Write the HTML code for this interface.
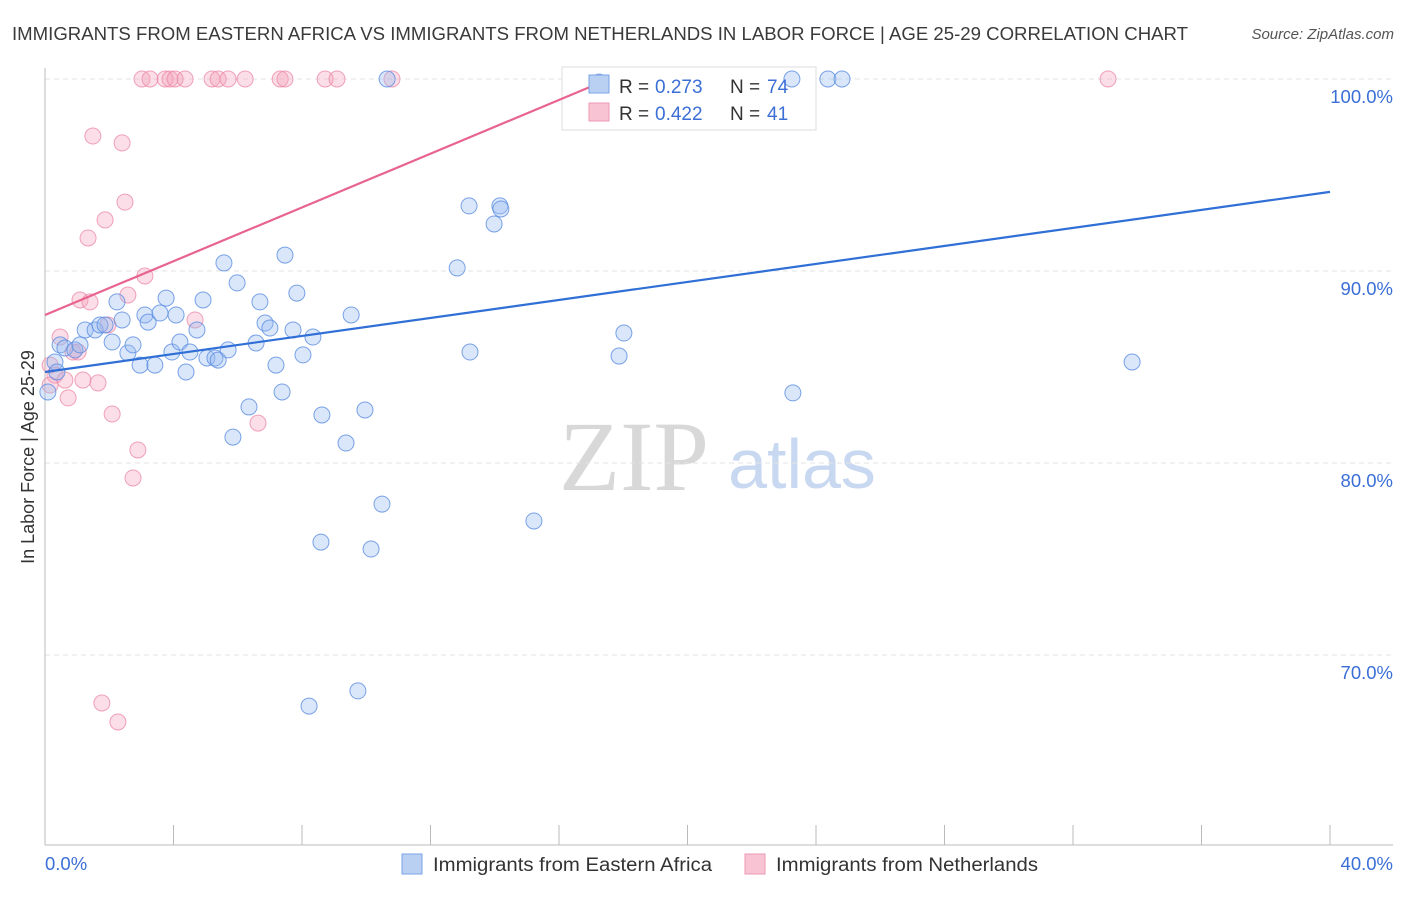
<!DOCTYPE html>
<html><head><meta charset="utf-8">
<style>
body{margin:0;background:#fff;font-family:"Liberation Sans",sans-serif;}
svg text{font-family:"Liberation Sans",sans-serif;}
</style></head>
<body>
<svg id="chart" width="1406" height="892" viewBox="0 0 1406 892">
<text x="12" y="40" font-size="18" fill="#3a3a3a" textLength="1176" lengthAdjust="spacingAndGlyphs">IMMIGRANTS FROM EASTERN AFRICA VS IMMIGRANTS FROM NETHERLANDS IN LABOR FORCE | AGE 25-29 CORRELATION CHART</text>
<text x="1394" y="39" font-size="15" fill="#555" font-style="italic" text-anchor="end">Source: ZipAtlas.com</text>
<g>
<text x="634" y="490" font-size="100" fill="#d8d8d8" text-anchor="middle" style="font-family:'Liberation Serif',serif">ZIP</text>
<text x="802" y="488" font-size="70" fill="#c8d8f0" text-anchor="middle">atlas</text>
</g>
<g id="grid"></g>
<g id="axes"></g>
<g>
<rect x="562" y="67" width="254" height="63" fill="#fff" stroke="#ddd"/>
</g>
<g id="marks"></g>
<g>
<rect x="589" y="75" width="20" height="18" fill="#b9d0f3" stroke="#7aa2e6"/>
<text x="619" y="93" font-size="19" fill="#333">R = </text><text x="655" y="93" font-size="19" fill="#3b6fd6">0.273</text>
<text x="730" y="93" font-size="19" fill="#333">N = </text><text x="767" y="93" font-size="19" fill="#3b6fd6">74</text>
<rect x="589" y="103" width="20" height="18" fill="#f8c3d2" stroke="#ec9ab3"/>
<text x="619" y="120" font-size="19" fill="#333">R = </text><text x="655" y="120" font-size="19" fill="#3b6fd6">0.422</text>
<text x="730" y="120" font-size="19" fill="#333">N = </text><text x="767" y="120" font-size="19" fill="#3b6fd6">41</text>
</g>
<text transform="translate(34,457) rotate(-90)" font-size="18" fill="#333" text-anchor="middle">In Labor Force | Age 25-29</text>
<g>
<rect x="402" y="854" width="20" height="20" fill="#b9d0f3" stroke="#7aa2e6"/>
<text x="433" y="871" font-size="19" fill="#333" textLength="279" lengthAdjust="spacingAndGlyphs">Immigrants from Eastern Africa</text>
<rect x="745" y="854" width="20" height="20" fill="#f8c3d2" stroke="#ec9ab3"/>
<text x="776" y="871" font-size="19" fill="#333" textLength="262" lengthAdjust="spacingAndGlyphs">Immigrants from Netherlands</text>
</g>
</svg>
<script>
const blueX=[0.31,0.37,0.47,0.62,0.93,1.09,1.25,1.56,1.71,1.87,2.09,2.24,2.40,2.58,2.74,2.96,3.11,3.21,3.42,3.58,3.77,3.95,4.08,4.20,4.39,4.51,4.73,4.92,5.04,5.29,5.39,5.57,5.70,5.85,5.98,6.35,6.57,6.69,6.85,7.00,7.19,7.38,7.47,7.72,7.84,8.03,8.34,8.59,8.62,8.22,9.37,9.53,9.74,9.96,10.15,10.49,10.65,12.83,13.20,13.23,13.98,14.16,14.19,15.22,17.25,17.87,18.02,23.28,23.25,24.37,24.81,33.84,0.09];
const blueY=[85.26,84.74,86.15,85.99,85.89,86.15,86.93,86.93,87.19,87.19,86.30,88.39,87.45,85.73,86.15,85.10,87.71,87.34,85.10,87.81,88.59,85.78,87.71,86.30,84.74,85.78,86.93,88.49,85.47,85.47,85.36,90.42,85.89,81.35,89.38,82.92,86.25,88.39,87.29,87.03,85.10,83.70,90.83,86.93,88.85,85.63,86.56,75.88,82.50,67.34,81.04,87.71,68.13,82.76,75.52,77.86,100,90.16,93.39,85.78,92.45,93.39,93.23,76.98,99.84,85.57,86.77,83.65,100,100,100,85.26,83.70];
const pinkX=[0.16,0.31,0.47,0.62,0.72,0.87,1.03,1.09,1.18,1.34,1.40,1.49,1.65,1.77,1.87,1.96,2.09,2.27,2.40,2.49,2.58,2.74,2.89,3.02,3.11,3.27,3.74,3.89,4.05,4.36,4.67,5.20,5.39,5.70,6.23,6.63,7.32,7.47,8.72,9.09,10.80,33.09,0.16];
const pinkY=[85.10,84.58,86.56,84.32,83.39,85.78,85.78,88.49,84.32,91.72,88.39,97.03,84.17,67.50,92.66,87.19,82.55,66.51,96.67,93.59,88.75,79.22,80.68,100,89.74,100,100,100,100,100,87.45,100,100,100,100,82.08,100,100,100,100,100,100,84.06];
const blueFit=[84.74,0.2345];
const pinkFit=[87.71,0.70];
const yTicks=[70,80,90,100];
const yTickLabels=["70.0%","80.0%","90.0%","100.0%"];
const xTicks=[0,4,8,12,16,20,24,28,32,36,40];

const NS="http://www.w3.org/2000/svg";
const xs=v=>45+v*32.125;
const ys=v=>79+(100-v)*19.2;
function mk(parent,tag,attrs){const e=document.createElementNS(NS,tag);for(const k in attrs)e.setAttribute(k,attrs[k]);document.getElementById(parent).appendChild(e);return e;}
yTicks.forEach((t,i)=>{
  const g=mk('grid','line',{x1:45,x2:1393,y1:ys(t),y2:ys(t),stroke:'#e3e3e3','stroke-dasharray':'5,4'});
  
  
  const l=mk('axes','text',{x:1393,y:ys(t)+24,'font-size':18.5,fill:'#3b6fd6','text-anchor':'end'});
  l.textContent=yTickLabels[i];
  
  
});
const ax=mk('axes','line',{x1:45,x2:45,y1:68,y2:845,stroke:'#bbb'});


const bx=mk('axes','line',{x1:45,x2:1393,y1:845,y2:845,stroke:'#bbb'});


xTicks.forEach(t=>{
  const tk=mk('axes','line',{x1:xs(t),x2:xs(t),y1:825,y2:845,stroke:'#bbb'});
  
  
});
const x0=mk('axes','text',{x:45,y:870,'font-size':18.5,fill:'#3b6fd6'});x0.textContent='0.0%';


const x1=mk('axes','text',{x:1393,y:870,'font-size':18.5,fill:'#3b6fd6','text-anchor':'end'});x1.textContent='40.0%';



pinkX.forEach((x,i)=>{
  const c=mk('marks','circle',{cx:xs(x),cy:ys(pinkY[i]),r:8,fill:'rgba(244,160,187,0.35)',stroke:'rgba(236,140,170,0.8)','stroke-width':1});
  
  
});
blueX.forEach((x,i)=>{
  const c=mk('marks','circle',{cx:xs(x),cy:ys(blueY[i]),r:8,fill:'rgba(150,185,240,0.35)',stroke:'rgba(90,140,225,0.8)','stroke-width':1});
  
  
});
const bl=mk('marks','line',{x1:xs(0),y1:ys(blueFit[0]),x2:xs(40),y2:ys(blueFit[0]+blueFit[1]*40),stroke:'#2f6fd6','stroke-width':2.2});


const pe=(100-pinkFit[0])/pinkFit[1];
const pl=mk('marks','line',{x1:xs(0),y1:ys(pinkFit[0]),x2:xs(pe),y2:ys(100),stroke:'#e8648f','stroke-width':2.2});


</script>
</body></html>
